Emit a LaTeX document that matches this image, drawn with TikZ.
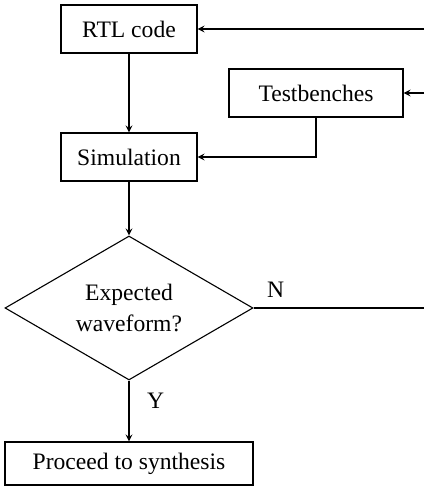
\documentclass[tikz,border=0pt]{standalone}
\usepackage{fontspec}
\setmainfont{Liberation Serif}
\usetikzlibrary{shapes.geometric}

\begin{document}
\begin{tikzpicture}
            [->, >=stealth, x=10pt, y=10pt, line width=0.55pt,
             font=\fontsize{11.8}{15.5}\selectfont,
             box/.style={shape=rectangle, draw=black, inner sep=0pt},
             decision/.style={shape=diamond, draw=black, inner sep=0pt, aspect=1.72,
                              minimum width=124pt, minimum height=72pt, align=center}]
            \useasboundingbox (0, 0) rectangle (21.2, 24.3);
            \node[box, minimum width=68pt, minimum height=24pt] (rtl) at (6.45, 22.85) {RTL code};
            \node[box, minimum width=87pt, minimum height=24pt] (tb) at (15.8, 19.65) {Testbenches};
            \node[box, minimum width=68pt, minimum height=24pt] (sim) at (6.45, 16.45) {Simulation};
            \node[decision] (check) at (6.45, 8.9) {Expected\\waveform?};
            \node[box, minimum width=124pt, minimum height=21.5pt] (synth) at (6.45, 1.125) {Proceed to synthesis};
            \coordinate (rtlin) at (21.2, 22.85);
            \coordinate (tbin) at (21.2, 19.65);
            \coordinate (fail) at (21.2, 8.9);

            \path [->] (rtlin) edge (rtl);
            \path [->] (tbin) edge (tb);
            \path [->] (rtl) edge (sim);
            \draw [->] (tb.south) |- (sim.east);
            \path [->] (sim) edge (check.north);
            \path [->] (check.south) edge node[right, pos=0.34, xshift=5.5pt] {Y} (synth);
            \draw [-] (check.east) -- node[above, pos=0.13, yshift=1.5pt] {N} (fail);
        \end{tikzpicture}
\end{document}
